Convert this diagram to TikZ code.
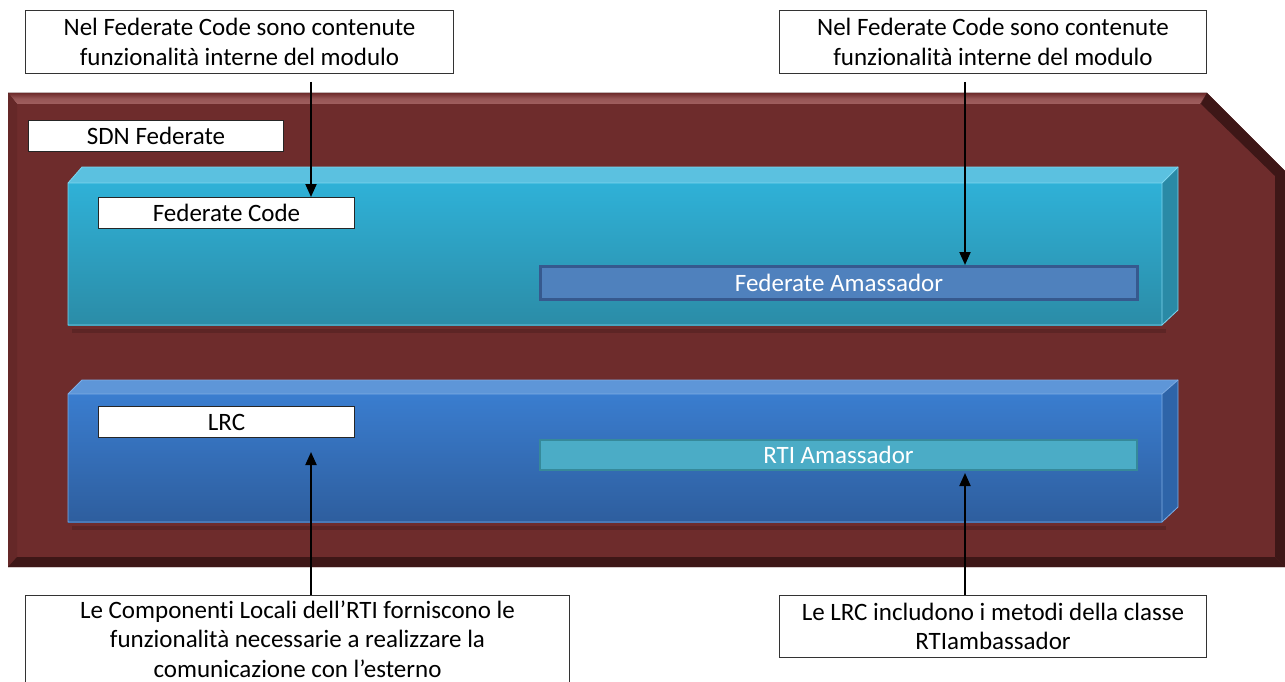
\documentclass[tikz,border=0pt]{standalone}
\usepackage{fontspec}
\setmainfont{Carlito}[Ligatures={NoCommon}]
\usetikzlibrary{arrows.meta,calc}
\definecolor{brface}{HTML}{6E2C2C}
\definecolor{brlight}{HTML}{A05F5F}
\definecolor{brdark}{HTML}{3E1717}
\definecolor{brleft}{HTML}{652828}
\definecolor{cytop}{HTML}{5BC1E0}
\definecolor{cyfronttop}{HTML}{2FB1D7}
\definecolor{cyfrontbot}{HTML}{2B8CA7}
\definecolor{cyside}{HTML}{2A8AA6}
\definecolor{cyedge}{HTML}{7ED6EF}
\definecolor{bltop}{HTML}{5E96D8}
\definecolor{blfronttop}{HTML}{3A7DCF}
\definecolor{blfrontbot}{HTML}{2E5E9E}
\definecolor{blside}{HTML}{2E64A8}
\definecolor{bledge}{HTML}{7FAEE6}
\definecolor{fabar}{HTML}{4F81BD}
\definecolor{fabord}{HTML}{36598E}
\definecolor{rabar}{HTML}{4BACC6}
\definecolor{rabord}{HTML}{36899A}
\tikzset{
  wbox/.style={draw=black!85, line width=1pt, fill=white, anchor=north west,
    font=\fontsize{25}{28}\selectfont, inner sep=0pt},
  callout/.style={draw=black!80, line width=1pt, fill=white, anchor=north west,
    align=center, font=\fontsize{25}{29.5}\selectfont, inner sep=0pt},
  bar/.style={anchor=north west, text=white, font=\fontsize{25}{28}\selectfont,
    line width=3pt, inner sep=0pt},
  arr/.style={line width=2pt, -{Triangle[length=13pt,width=11pt]}},
}
\begin{document}
\begin{tikzpicture}[x=1pt,y=-1pt]
\useasboundingbox (0,0) rectangle (1285,682);
% brown container
\fill[brface] (8,93) -- (1207,93) -- (1285,171) -- (1285,567) -- (8,567) -- cycle;
\fill[top color=brface, bottom color=brlight, middle color=brlight!80!brface] (8,93) -- (1207,93) -- (1200,104) -- (17,104) -- cycle;
\fill[brleft] (8,93) -- (17,104) -- (17,557) -- (8,567) -- cycle;
\fill[brdark] (1207,93) -- (1285,171) -- (1285,567) -- (1275,557) -- (1275,176) -- (1201,104) -- cycle;
\fill[brdark] (8,567) -- (1285,567) -- (1275,557) -- (17,557) -- cycle;
% cyan 3D box
\fill[black, opacity=0.15] (72,329) rectangle (1166,333);
\fill[cytop] (68,183) -- (82,167) -- (1178,167) -- (1162,183) -- cycle;
\fill[cyside] (1162,183) -- (1178,167) -- (1178,310) -- (1162,325) -- cycle;
\shade[top color=cyfronttop, bottom color=cyfrontbot] (68,183) rectangle (1162,325);
\draw[cyedge, line width=0.8pt] (68,183) -- (82,167) -- (1178,167) -- (1178,310) -- (1162,325) -- (68,325) -- cycle;
\draw[cyedge, line width=0.8pt] (68,183) -- (1162,183) -- (1178,167) (1162,183) -- (1162,325);
% blue 3D box
\fill[black, opacity=0.15] (72,526) rectangle (1166,530);
\fill[bltop] (68,394) -- (82,380) -- (1178,380) -- (1162,394) -- cycle;
\fill[blside] (1162,394) -- (1178,380) -- (1178,507) -- (1162,522) -- cycle;
\shade[top color=blfronttop, bottom color=blfrontbot] (68,394) rectangle (1162,522);
\draw[bledge, line width=0.8pt] (68,394) -- (82,380) -- (1178,380) -- (1178,507) -- (1162,522) -- (68,522) -- cycle;
\draw[bledge, line width=0.8pt] (68,394) -- (1162,394) -- (1178,380) (1162,394) -- (1162,522);
% white labels
\node[wbox, minimum width=255pt, minimum height=31pt] (sdn) at (28,120) {SDN Federate};
\node[wbox, minimum width=256pt, minimum height=31pt] (fc) at (98,197) {Federate Code};
\node[wbox, minimum width=256pt, minimum height=31pt] (lrc) at (98,406) {LRC};
% bars
\node[bar, fill=fabar, draw=fabord, minimum width=597pt, minimum height=33pt] (fa) at (539,265) {Federate Amassador};
\node[bar, fill=rabar, draw=rabord, minimum width=597pt, minimum height=30pt, line width=2pt] (ra) at (539,439) {RTI Amassador};
% callouts
\node[callout, minimum width=428pt, minimum height=63pt] (c1) at (25,10) {Nel Federate Code sono contenute\\funzionalità interne del modulo};
\node[callout, minimum width=427pt, minimum height=63pt] (c2) at (779,10) {Nel Federate Code sono contenute\\funzionalità interne del modulo};
\node[callout, minimum width=544pt, minimum height=87pt] (c3) at (25,595) {Le Componenti Locali dell’RTI forniscono le\\funzionalità necessarie a realizzare la\\comunicazione con l’esterno};
\node[callout, minimum width=427pt, minimum height=62pt] (c4) at (779,595) {Le LRC includono i metodi della classe\\RTIambassador};
% arrows
\draw[arr, shorten <=8pt] (c1.south -| 311,0) -- (fc.north -| 311,0);
\draw[arr, shorten <=8pt] (c2.south -| 965,0) -- (fa.north -| 965,0);
\draw[arr, shorten >=14pt] (c3.north -| 311,0) -- (lrc.south -| 311,0);
\draw[arr, shorten >=2pt] (c4.north -| 965,0) -- (ra.south -| 965,0);
\end{tikzpicture}
\end{document}
